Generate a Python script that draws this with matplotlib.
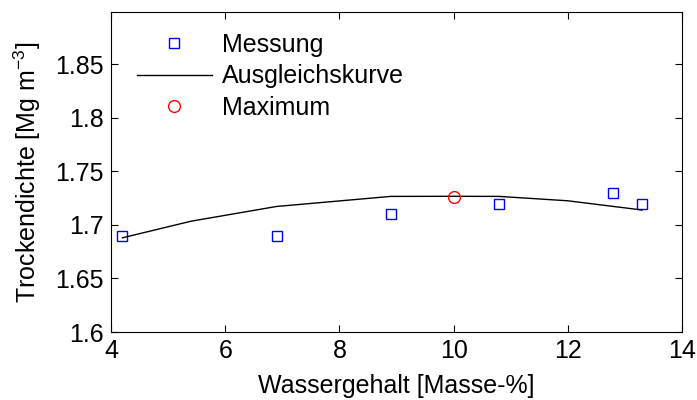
import matplotlib.pyplot as plt
import numpy as np

# Messwerte
wasser = [4.2, 6.9, 8.9, 10.8, 12.8, 13.3]
dichte = [1.69, 1.69, 1.71, 1.72, 1.73, 1.72]

# Ausgleichskurve
kurve_x = [4.2, 5.4, 6.9, 8.9, 10.0, 10.8, 12.0, 13.3]
kurve_y = [1.688, 1.7035, 1.7173, 1.7267, 1.7268, 1.7267, 1.7226, 1.714]

# Maximum
max_x = [10.0]
max_y = [1.7265]

plt.rcParams['font.family'] = ['Liberation Sans', 'DejaVu Sans']
plt.rcParams['mathtext.fontset'] = 'custom'
plt.rcParams['mathtext.rm'] = 'Liberation Sans'

fig = plt.figure(figsize=(6.97, 4.0), dpi=100)
ax = fig.add_axes([111/697, 68/400, 571/697, 320/400])

ax.plot(wasser, dichte, 's', color='blue', mfc='none', ms=6.5, mew=1.0, label='Messung')
ax.plot(kurve_x, kurve_y, '-', color='black', lw=1.0, label='Ausgleichskurve')
ax.plot(max_x, max_y, 'o', color='red', mfc='none', ms=8.5, mew=1.0, label='Maximum')

ax.set_xlim(4, 14)
ax.set_ylim(1.6, 1.899)
ax.set_xticks([4, 6, 8, 10, 12, 14])
ax.set_yticks([1.6, 1.65, 1.7, 1.75, 1.8, 1.85])
ax.set_yticklabels(['1.6', '1.65', '1.7', '1.75', '1.8', '1.85'])

ax.tick_params(direction='in', top=True, right=True, length=5, width=0.8, labelsize=18, pad=5)
for s in ax.spines.values():
    s.set_linewidth(0.8)

ax.set_xlabel('Wassergehalt [Masse-%]', fontsize=18, labelpad=8)
ax.set_ylabel('Trockendichte [Mg m$^{\\mathregular{-3}}$]', fontsize=18, labelpad=9)

ax.legend(loc='upper left', bbox_to_anchor=(0.045, 0.935), frameon=False, fontsize=18,
          handlelength=3.0, handletextpad=0.4, labelspacing=0.3, borderaxespad=0, borderpad=0)

fig.savefig('out.png', dpi=100)
